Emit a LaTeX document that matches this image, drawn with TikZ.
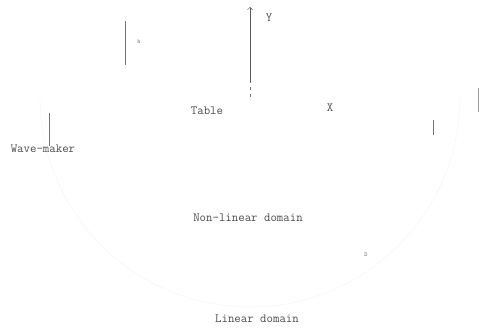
\documentclass[tikz,border=0pt]{standalone}
\usepackage{tikz}
\usetikzlibrary{arrows.meta,positioning,calc}

\begin{document}
\begin{tikzpicture}[
  x=1pt, y=-1pt,
  >=Straight Barb,
  lbl/.style={font=\ttfamily\fontsize{12.5}{14}\selectfont, text=black!70, inner sep=1pt},
  tinylbl/.style={font=\ttfamily\fontsize{6}{7}\selectfont, text=black!55, inner sep=0pt},
  wall/.style={draw=black!55, line width=0.6pt},
  axis/.style={->, draw=black!65, line width=0.5pt},
  faint/.style={draw=black!8, line width=0.15pt}
]
\useasboundingbox (0,0) rectangle (480,329);

% axes
\coordinate (origin) at (250,97);
\coordinate (ytip) at (250,7);
\coordinate (ymid) at (250,82);
\draw[axis] (ymid) -- (ytip);
\draw[draw=black!55, line width=0.5pt, dash pattern=on 3pt off 4pt] (origin) -- (ymid);
\node[lbl] (ylab) at (269,18) {Y};
\node[lbl] (xlab) at (330,108) {X};
\node[lbl] (table) at (207,111) {Table};

% structures
\coordinate (pa) at (125,21);
\coordinate (pb) at (125,65);
\draw[wall] (pa) -- (pb);
\node[tinylbl] (hlab) at (139,42) {h};

\coordinate (wa) at (49,113);
\coordinate (wb) at (49,146);
\draw[wall] (wa) -- (wb);
\node[lbl] (wave) at (43,149) {Wave-maker};

\coordinate (ra) at (478,88);
\coordinate (rb) at (478,112);
\draw[wall, draw=black!40] (ra) -- (rb);
\coordinate (sa) at (433,120);
\coordinate (sb) at (433,135);
\draw[wall] (sa) -- (sb);

% domains
\draw[faint] (origin) ++(-210,0) arc[start angle=180, end angle=0, radius=210];
\node[lbl] (nonlin) at (248,218) {Non-linear domain};
\node[lbl] (lin) at (257,319) {Linear domain};
\node[tinylbl] (dlab) at (366,255) {D};
\end{tikzpicture}
\end{document}
